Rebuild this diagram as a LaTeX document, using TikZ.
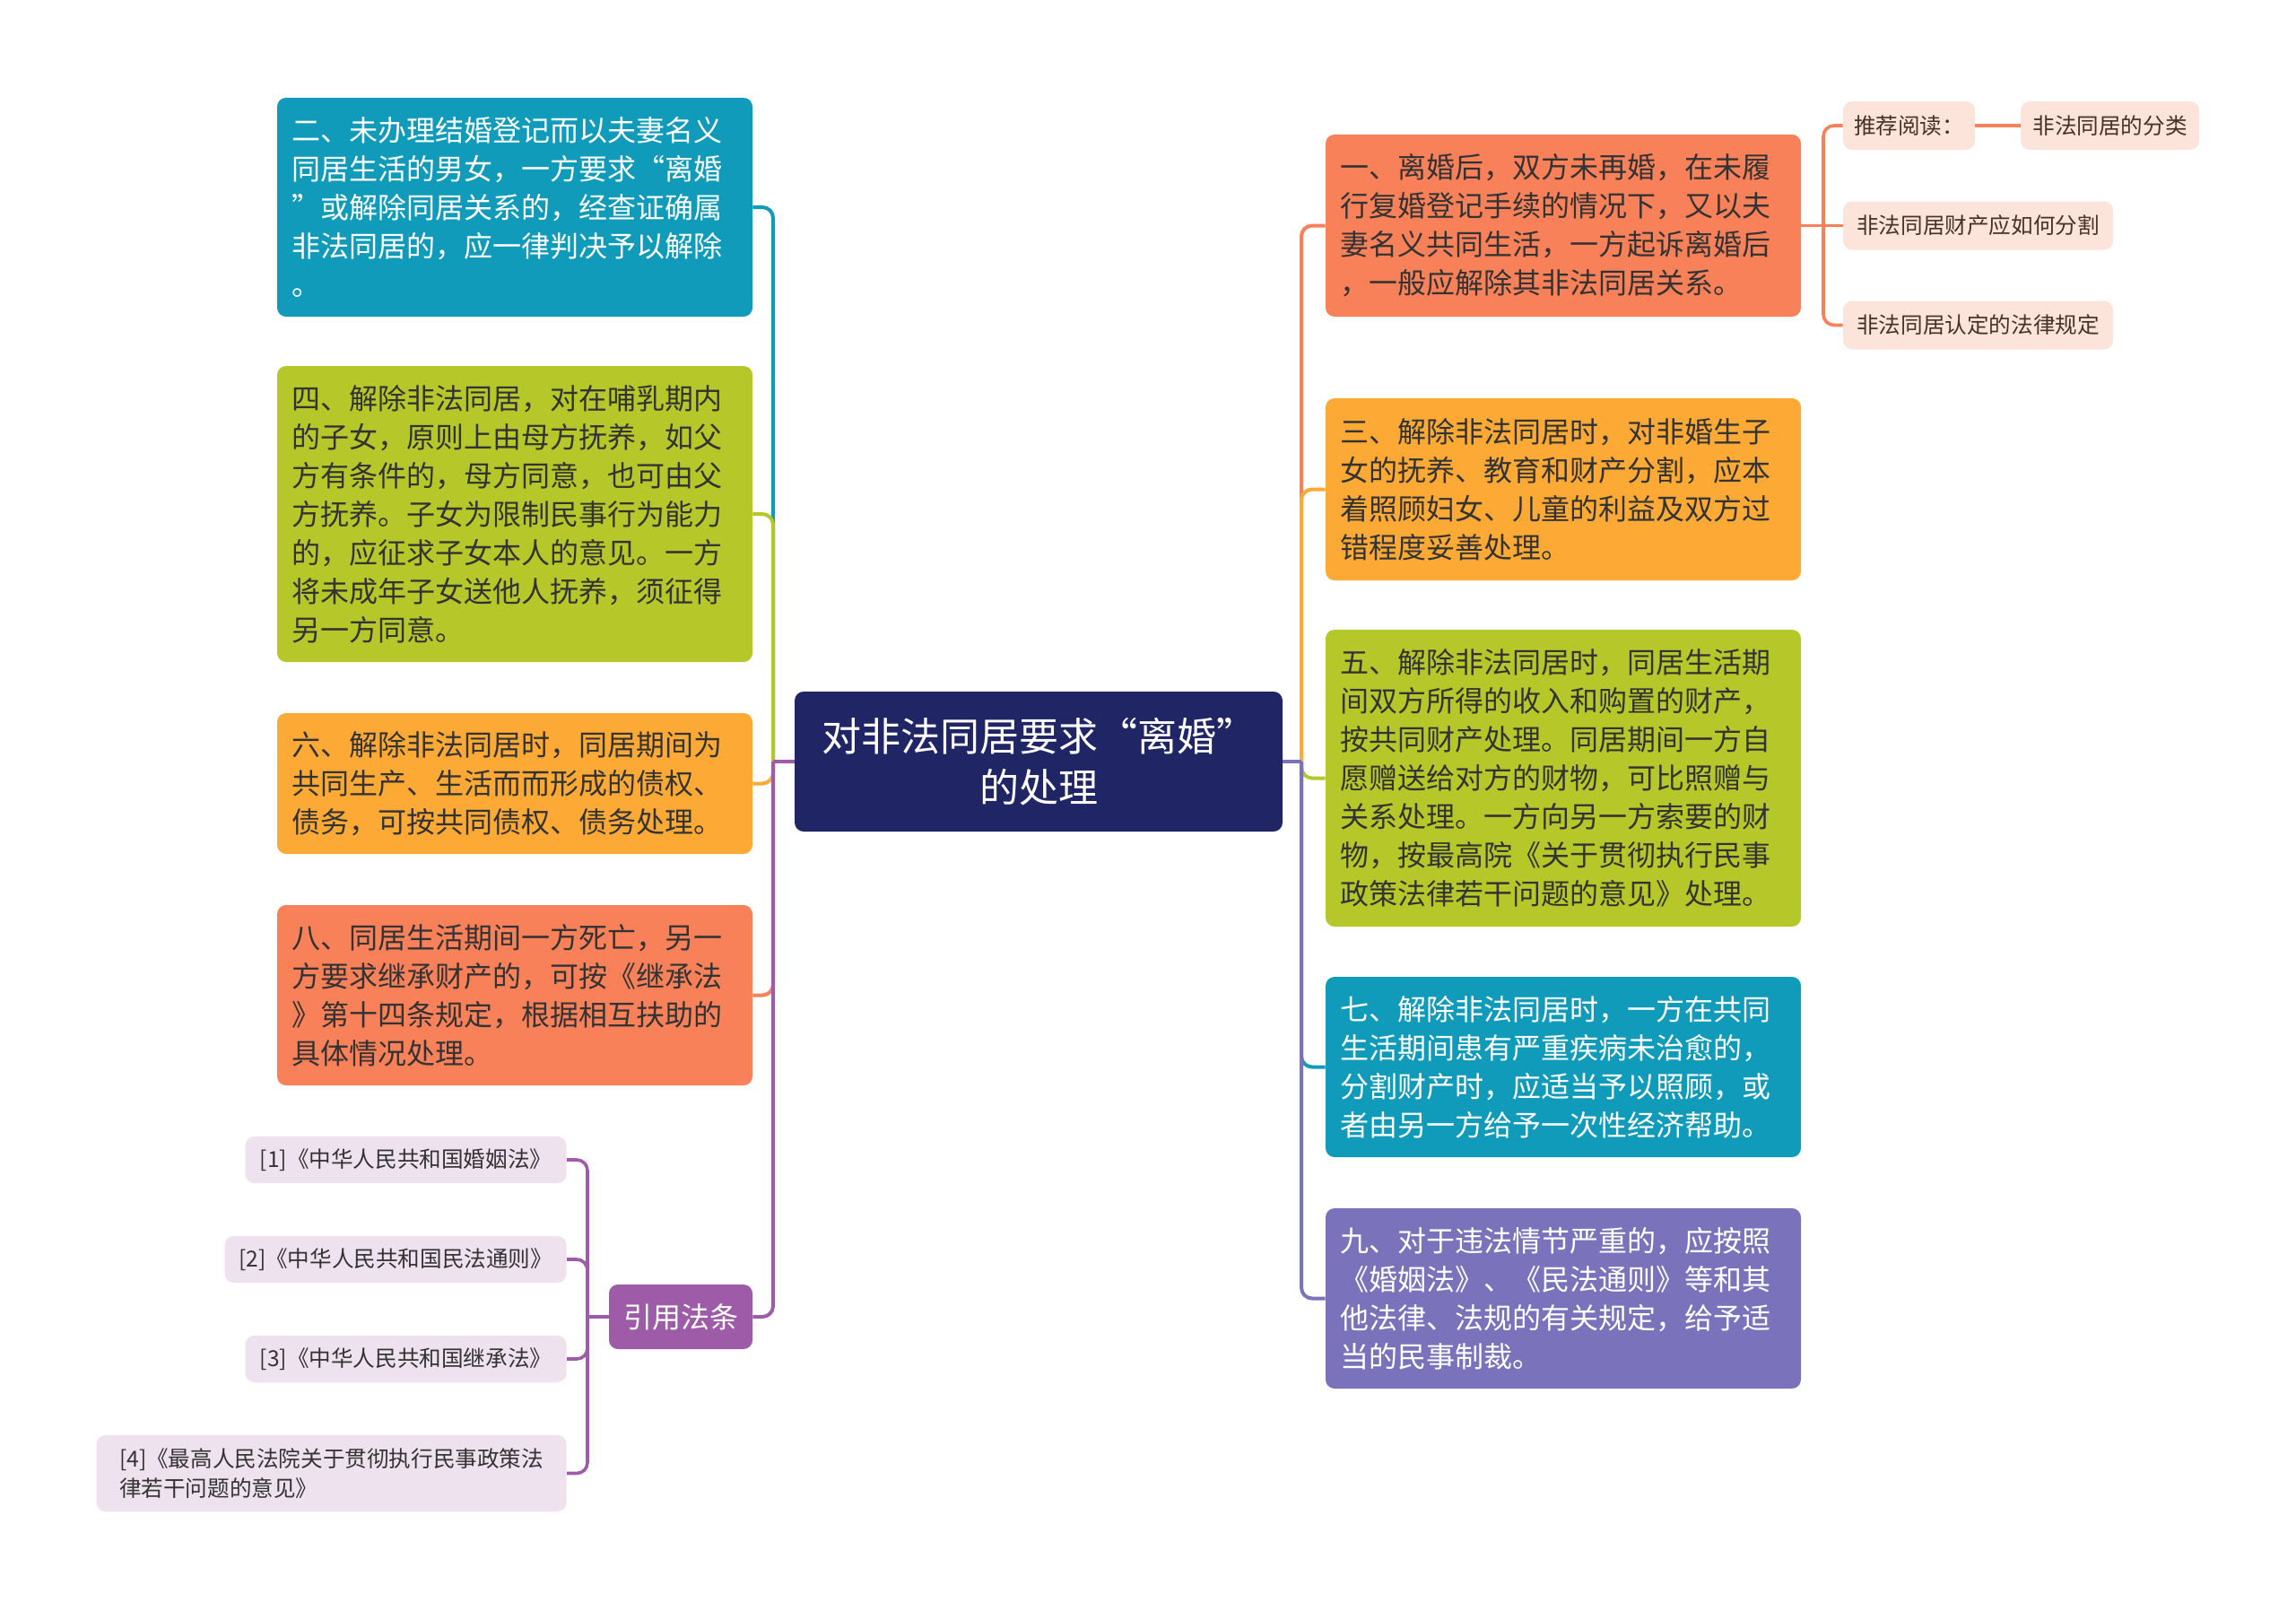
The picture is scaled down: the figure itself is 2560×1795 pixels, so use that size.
\documentclass[tikz,border=0pt]{standalone}
\usepackage{fontspec}
\setmainfont{Noto Sans CJK SC}
\definecolor{cNavy}{HTML}{202566}
\definecolor{cBlue}{HTML}{0F9BB9}
\definecolor{cGreen}{HTML}{B6C72A}
\definecolor{cOrange}{HTML}{FCAA35}
\definecolor{cCoral}{HTML}{F8815A}
\definecolor{cPurple}{HTML}{9E5CA8}
\definecolor{cViolet}{HTML}{7A73BB}
\definecolor{cLav}{HTML}{EEE2EF}
\definecolor{cPeach}{HTML}{FCE4DB}
\definecolor{cText}{HTML}{333333}
\definecolor{cPText}{HTML}{4A3028}
\tikzset{
  box/.style={rounded corners=5pt, inner xsep=8pt, inner ysep=0pt, text width=249pt, align=left, font=\fontsize{16}{21.5}\selectfont},
  darkbox/.style={box, text=cText},
  lightbox/.style={box, text=white},
  lawbox/.style={rounded corners=5pt, fill=cLav, text=cText, inner sep=0pt, minimum height=26pt, font=\fontsize{12.3}{16.5}\selectfont},
  peachbox/.style={rounded corners=5pt, fill=cPeach, text=cPText, inner sep=0pt, minimum height=27pt, font=\fontsize{12.3}{16.5}\selectfont},
  conn/.style={line width=2pt, rounded corners=6pt},
  subconn/.style={line width=1.8pt, rounded corners=6pt}
}
\begin{document}
\begin{tikzpicture}[x=0.5pt, y=-0.5pt]
\fill[white] (0,0) rectangle (2560,1795);
\useasboundingbox (0,0) rectangle (2560,1795);

% centre
\node[rounded corners=5pt, fill=cNavy, text=white, minimum width=272pt, minimum height=78pt, inner sep=0pt, align=center, font=\fontsize{22}{28.5}\selectfont] (C) at (1158,849) {对非法同居要求“离婚”\\的处理};

% left branches
\node[lightbox, fill=cBlue, minimum height=122pt] (B2) at (574,231) {二、未办理结婚登记而以夫妻名义\\同居生活的男女，一方要求“离婚\\”或解除同居关系的，经查证确属\\非法同居的，应一律判决予以解除\\。};
\node[darkbox, fill=cGreen, minimum height=165pt] (B4) at (574,573) {四、解除非法同居，对在哺乳期内\\的子女，原则上由母方抚养，如父\\方有条件的，母方同意，也可由父\\方抚养。子女为限制民事行为能力\\的，应征求子女本人的意见。一方\\将未成年子女送他人抚养，须征得\\另一方同意。};
\node[darkbox, fill=cOrange, minimum height=78.5pt] (B6) at (574,873.5) {六、解除非法同居时，同居期间为\\共同生产、生活而而形成的债权、\\债务，可按共同债权、债务处理。};
\node[darkbox, fill=cCoral, minimum height=100.5pt] (B8) at (574,1109.5) {八、同居生活期间一方死亡，另一\\方要求继承财产的，可按《继承法\\》第十四条规定，根据相互扶助的\\具体情况处理。};
\node[rounded corners=5pt, fill=cPurple, text=white, minimum width=80pt, minimum height=36pt, inner sep=0pt, font=\fontsize{16}{20}\selectfont] (Law) at (759,1468) {引用法条};

\node[lawbox, minimum width=179pt, anchor=east] (L1) at (632,1293) {[1]《中华人民共和国婚姻法》};
\node[lawbox, minimum width=190.5pt, anchor=east] (L2) at (632,1404) {[2]《中华人民共和国民法通则》};
\node[lawbox, minimum width=179pt, anchor=east] (L3) at (632,1515) {[3]《中华人民共和国继承法》};
\node[lawbox, minimum width=262pt, minimum height=42.5pt, align=left, anchor=east] (L4) at (632,1642.5) {[4]《最高人民法院关于贯彻执行民事政策法\\律若干问题的意见》};

% right branches
\node[darkbox, fill=cCoral, minimum height=101.5pt] (R1) at (1743,251.5) {一、离婚后，双方未再婚，在未履\\行复婚登记手续的情况下，又以夫\\妻名义共同生活，一方起诉离婚后\\，一般应解除其非法同居关系。};
\node[darkbox, fill=cOrange, minimum height=101.5pt] (R3) at (1743,545.5) {三、解除非法同居时，对非婚生子\\女的抚养、教育和财产分割，应本\\着照顾妇女、儿童的利益及双方过\\错程度妥善处理。};
\node[darkbox, fill=cGreen, minimum height=165.5pt] (R5) at (1743,867.5) {五、解除非法同居时，同居生活期\\间双方所得的收入和购置的财产，\\按共同财产处理。同居期间一方自\\愿赠送给对方的财物，可比照赠与\\关系处理。一方向另一方索要的财\\物，按最高院《关于贯彻执行民事\\政策法律若干问题的意见》处理。};
\node[lightbox, fill=cBlue, minimum height=100.5pt] (R7) at (1743,1189.5) {七、解除非法同居时，一方在共同\\生活期间患有严重疾病未治愈的，\\分割财产时，应适当予以照顾，或\\者由另一方给予一次性经济帮助。};
\node[lightbox, fill=cViolet, minimum height=100.5pt] (R9) at (1743,1447.5) {九、对于违法情节严重的，应按照\\《婚姻法》、《民法通则》等和其\\他法律、法规的有关规定，给予适\\当的民事制裁。};

\node[peachbox, minimum width=73.5pt] (K1) at (2128.5,140) {推荐阅读：};
\node[peachbox, minimum width=99.5pt] (K2) at (2352.5,140) {非法同居的分类};
\node[peachbox, minimum width=150.5pt] (K3) at (2205.5,251.5) {非法同居财产应如何分割};
\node[peachbox, minimum width=150.5pt] (K4) at (2205.5,362.5) {非法同居认定的法律规定};

% trunk points
\coordinate (LT) at (862,849);
\coordinate (RT) at (1451,849);
\coordinate (ST) at (2033,251.5);
\coordinate (LawT) at (655,1468);

% left connectors
\draw[conn, cBlue] (LT) |- (B2.east);
\draw[conn, cGreen] (LT) |- (B4.east);
\draw[conn, cOrange] (LT) |- (B6.east);
\draw[conn, cCoral] (LT) |- (B8.east);
\draw[conn, cPurple] (LT) |- (Law.east);
\draw[conn, cPurple] (C.west) -- (LT);

% right connectors
\draw[conn, cCoral] (RT) |- (R1.west);
\draw[conn, cOrange] (RT) |- (R3.west);
\draw[conn, cGreen] (RT) |- (R5.west);
\draw[conn, cBlue] (RT) |- (R7.west);
\draw[conn, cViolet] (RT) |- (R9.west);
\draw[conn, cViolet] (C.east) -- (RT);

% sub connectors
\draw[subconn, cCoral] (R1.east) -- (ST);
\draw[subconn, cCoral] (ST) |- (K1.west);
\draw[subconn, cCoral] (ST) -- (K3.west);
\draw[subconn, cCoral] (ST) |- (K4.west);
\draw[subconn, cCoral] (K1.east) -- (K2.west);

\draw[subconn, cPurple] (Law.west) -- (LawT);
\draw[subconn, cPurple] (LawT) |- (L1.east);
\draw[subconn, cPurple] (LawT) |- (L2.east);
\draw[subconn, cPurple] (LawT) |- (L3.east);
\draw[subconn, cPurple] (LawT) |- (L4.east);
\end{tikzpicture}
\end{document}
